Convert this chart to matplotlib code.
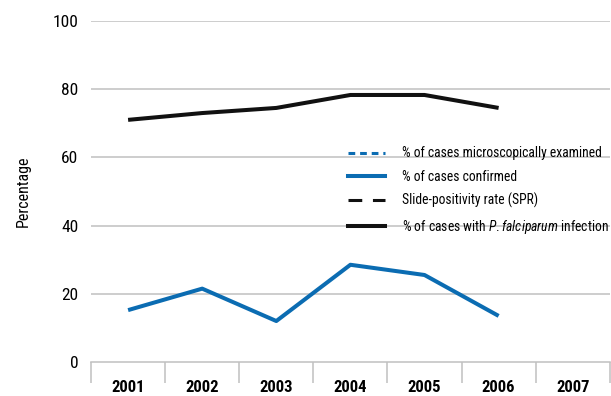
import matplotlib.pyplot as plt
from matplotlib.lines import Line2D

plt.rcParams['font.family'] = ['Roboto Condensed', 'DejaVu Sans']
plt.rcParams['mathtext.fontset'] = 'custom'
plt.rcParams['mathtext.rm'] = 'Roboto Condensed'
plt.rcParams['mathtext.it'] = 'Roboto Condensed:italic'

years = ['2001', '2002', '2003', '2004', '2005', '2006', '2007']
falciparum = [71, 73, 74.5, 78.3, 78.3, 74.5]   # % of cases with P. falciparum infection
confirmed = [15.2, 21.5, 12, 28.5, 25.5, 13.5]  # % of cases confirmed

blue = '#0b6cb2'
black = '#111111'
grey = '#c0c0c0'

fig = plt.figure(figsize=(6.11, 3.96), dpi=100)
ax = fig.add_axes([0.149, 0.086, 0.849, 0.861])

ax.plot(range(len(falciparum)), falciparum, color=black, lw=2.9, solid_capstyle='butt')
ax.plot(range(len(confirmed)), confirmed, color=blue, lw=2.9, solid_capstyle='butt')

ax.set_xlim(-0.5, len(years) - 0.5)
ax.set_ylim(0, 100)
ax.set_yticks(range(0, 101, 20))
for yv in range(20, 101, 20):
    ax.axhline(yv, color=grey, lw=1.1, zorder=0)

ax.set_xticks(range(len(years)))
ax.set_xticklabels(years, fontweight='bold', fontsize=12)
ax.set_xticks([i - 0.5 for i in range(len(years) + 1)], minor=True)
ax.tick_params(axis='x', which='major', length=0, pad=13)
ax.tick_params(axis='x', which='minor', length=15, color=grey, width=1.1, direction='out')
ax.tick_params(axis='y', length=0, labelsize=12.5, pad=9)

for s in ['top', 'right', 'left']:
    ax.spines[s].set_visible(False)
ax.spines['bottom'].set_color(grey)
ax.spines['bottom'].set_linewidth(1.1)

ax.set_ylabel('Percentage', fontsize=11.5, labelpad=16)

handles = [
    Line2D([0], [0], color=blue, lw=2.2, linestyle=(0, (2.2, 1.6))),
    Line2D([0], [0], color=blue, lw=2.9),
    Line2D([0], [0], color=black, lw=2.2, linestyle=(0, (4.5, 3.5))),
    Line2D([0], [0], color=black, lw=2.9),
]
labels = ['% of cases microscopically examined', '% of cases confirmed',
          'Slide-positivity rate (SPR)', '% of cases with $\\mathit{P. falciparum}$ infection']
ax.legend(handles, labels, loc='upper left', bbox_to_anchor=(0.495, 0.632), frameon=False,
          borderpad=0, borderaxespad=0, fontsize=9.8, handlelength=2.75,
          handletextpad=1.25, labelspacing=0.68)

fig.savefig('out.png', dpi=100)
